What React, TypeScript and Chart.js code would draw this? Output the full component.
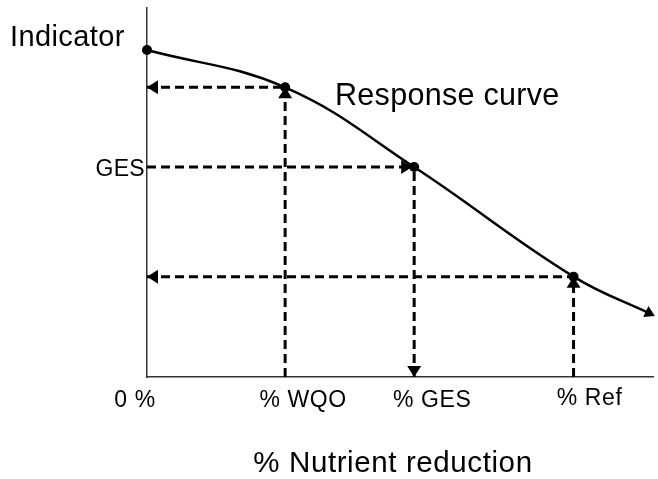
import React, { useEffect, useRef } from 'react';
import { Chart, registerables } from 'chart.js';

Chart.register(...registerables);

// Response curve (x: % nutrient reduction, y: indicator value)
const curveX = [0, 27.3, 52.8, 84.3, 100];
const curveY = [88.6, 78.5, 56.9, 27.2, 16.8];

// Marked points on the curve and their x tick labels
const markerLabels = ['0 %', '% WQO', '% GES', '% Ref'];
const markerX = [0, 27.3, 52.8, 84.3];
const markerY = [88.6, 78.5, 56.9, 27.2];

// y axis tick
const yTickLabels = ['GES'];
const yTickValues = [56.9];

const yTitle = 'Indicator';
const xTitle = '% Nutrient reduction';
const curveLabel = 'Response curve';

const FONT = '"Liberation Sans", Arial, Helvetica, sans-serif';
const DASH = [9, 5];

const pts = (xs: number[], ys: number[]) => xs.map((x, i) => ({ x, y: ys[i] }));

const annotatePlugin = {
  id: 'annotate',
  afterDatasetsDraw(chart: any) {
    const ctx: CanvasRenderingContext2D = chart.ctx;
    const xs = chart.scales.x;
    const ys = chart.scales.y;
    const px = (v: number) => xs.getPixelForValue(v);
    const py = (v: number) => ys.getPixelForValue(v);

    const arrow = (tx: number, ty: number, a: number, len = 11, half = 7) => {
      const c = Math.cos(a), s = Math.sin(a);
      const bx = tx - len * c, by = ty - len * s;
      ctx.beginPath();
      ctx.moveTo(tx, ty);
      ctx.lineTo(bx - half * s, by + half * c);
      ctx.lineTo(bx + half * s, by - half * c);
      ctx.closePath();
      ctx.fill();
    };

    ctx.save();
    ctx.fillStyle = '#000';

    // arrowheads of the guide lines
    arrow(px(0), py(markerY[1]), Math.PI);
    arrow(px(markerX[1]), py(markerY[1]), -Math.PI / 2);
    arrow(px(markerX[2]) - 2, py(markerY[2]), 0);
    arrow(px(markerX[2]), py(0), Math.PI / 2);
    arrow(px(0), py(markerY[3]), Math.PI);
    arrow(px(markerX[3]), py(markerY[3]), -Math.PI / 2);

    // end-of-curve arrow
    const n = curveX.length;
    const ex = px(curveX[n - 1]), ey = py(curveY[n - 1]);
    const ang = Math.atan2(18, 37);
    arrow(ex + 2 * Math.cos(ang), ey + 2 * Math.sin(ang), ang, 10, 6);

    // texts
    ctx.textBaseline = 'alphabetic';
    ctx.textAlign = 'left';
    (ctx as any).letterSpacing = '0.4px';
    ctx.font = `29px ${FONT}`;
    ctx.fillText(yTitle, 10, 46);

    (ctx as any).letterSpacing = '0.3px';
    ctx.font = `30.5px ${FONT}`;
    ctx.fillText(curveLabel, 335, 105);

    (ctx as any).letterSpacing = '0.3px';
    ctx.font = `23px ${FONT}`;
    ctx.textAlign = 'right';
    yTickLabels.forEach((t, i) => {
      ctx.fillText(t, px(0) - 2, py(yTickValues[i]) + 8.5);
    });

    (ctx as any).letterSpacing = '0.6px';
    ctx.font = `23px ${FONT}`;
    ctx.textAlign = 'center';
    const offs = [-12, 18, 18, 16];
    const base = [30, 30, 30, 28];
    markerLabels.forEach((t, i) => {
      ctx.fillText(t, px(markerX[i]) + offs[i], py(0) + base[i]);
    });

    (ctx as any).letterSpacing = '0.6px';
    ctx.font = `29.5px ${FONT}`;
    ctx.fillText(xTitle, 393, 472);

    ctx.restore();
  },
};

export default function App() {
  const ref = useRef<HTMLCanvasElement | null>(null);

  useEffect(() => {
    if (!ref.current) return;
    const guide = (a: { x: number; y: number }[]) => ({
      data: a,
      showLine: true,
      borderColor: '#000',
      borderWidth: 3,
      borderDash: DASH,
      pointRadius: 0,
      fill: false,
      clip: false as any,
    });

    const datasets: any[] = [
      {
        data: pts(curveX, curveY),
        showLine: true,
        borderColor: '#000',
        borderWidth: 2.5,
        pointRadius: 0,
        tension: 0.4,
        fill: false,
        clip: false,
      },
    ];
    for (let i = 1; i < markerX.length; i++) {
      datasets.push(guide([{ x: 0, y: markerY[i] }, { x: markerX[i], y: markerY[i] }]));
      datasets.push(guide([{ x: markerX[i], y: 0 }, { x: markerX[i], y: markerY[i] }]));
    }
    datasets.push({
      data: pts(markerX, markerY),
      showLine: false,
      pointRadius: 5,
      pointBackgroundColor: '#000',
      pointBorderColor: '#000',
      pointBorderWidth: 0,
      clip: false,
    });

    const chart = new Chart(ref.current, {
      type: 'scatter',
      data: { datasets },
      options: {
        animation: false,
        responsive: false,
        events: [],
        layout: { padding: { top: 8, right: 2, left: 0, bottom: 0 } },
        plugins: { legend: { display: false }, tooltip: { enabled: false } },
        scales: {
          x: {
            type: 'linear',
            min: 0,
            max: 100,
            grid: { display: false },
            border: { display: true, color: '#333', width: 1.5 },
            ticks: { display: false },
            afterFit: (s: any) => {
              s.height = 479 - 377;
            },
          },
          y: {
            type: 'linear',
            min: 0,
            max: 100,
            grid: { display: false },
            border: { display: true, color: '#333', width: 1.5 },
            ticks: { display: false },
            afterFit: (s: any) => {
              s.width = 147;
            },
          },
        },
      } as any,
      plugins: [annotatePlugin],
    });
    return () => chart.destroy();
  }, []);

  return (
    <div style={{ position: 'fixed', left: 0, top: 0, width: 658, height: 479, background: '#fff' }}>
      <canvas ref={ref} width={658} height={479} style={{ display: 'block' }} />
    </div>
  );
}
